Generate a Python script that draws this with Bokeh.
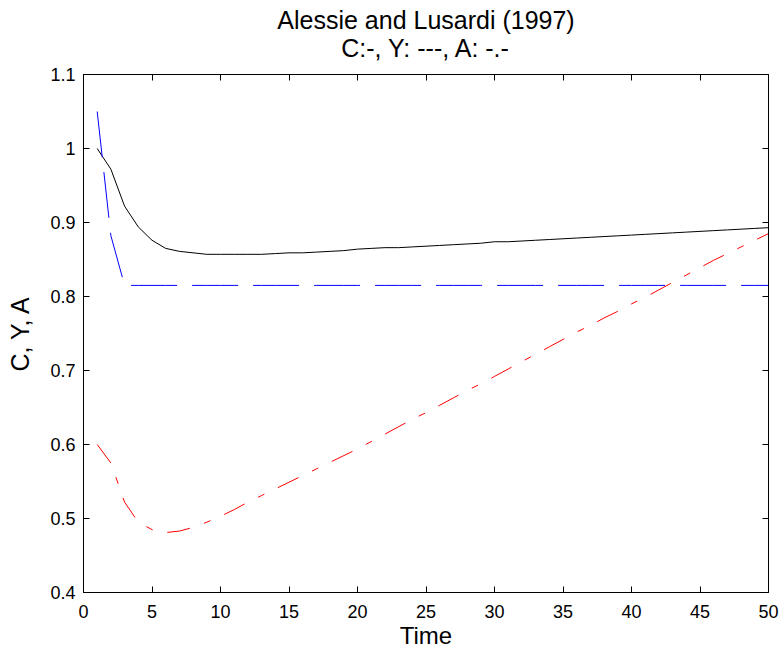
from bokeh.plotting import figure
from bokeh.models import (Range1d, FixedTicker, LinearAxis, Title,
                          CustomJSTickFormatter, CustomLabelingPolicy)
from bokeh.embed import file_html
from bokeh.resources import INLINE

# ---- data ----
time = [1, 2, 3, 4, 5, 6, 7, 8, 9, 10,
        11, 12, 13, 14, 15, 16, 17, 18, 19, 20,
        21, 22, 23, 24, 25, 26, 27, 28, 29, 30,
        31, 32, 33, 34, 35, 36, 37, 38, 39, 40,
        41, 42, 43, 44, 45, 46, 47, 48, 49, 50]

consumption = [1.000, 0.972, 0.922, 0.894, 0.876, 0.865, 0.861, 0.859, 0.857, 0.857,
               0.857, 0.857, 0.857, 0.858, 0.859, 0.859, 0.860, 0.861, 0.862, 0.864,
               0.865, 0.866, 0.866, 0.867, 0.868, 0.869, 0.870, 0.871, 0.872, 0.874,
               0.874, 0.875, 0.876, 0.877, 0.878, 0.879, 0.880, 0.881, 0.882, 0.883,
               0.884, 0.885, 0.886, 0.887, 0.888, 0.889, 0.890, 0.891, 0.892, 0.893]

income = [1.050, 0.882, 0.815, 0.815, 0.815, 0.815, 0.815, 0.815, 0.815, 0.815,
          0.815, 0.815, 0.815, 0.815, 0.815, 0.815, 0.815, 0.815, 0.815, 0.815,
          0.815, 0.815, 0.815, 0.815, 0.815, 0.815, 0.815, 0.815, 0.815, 0.815,
          0.815, 0.815, 0.815, 0.815, 0.815, 0.815, 0.815, 0.815, 0.815, 0.815,
          0.815, 0.815, 0.815, 0.815, 0.815, 0.815, 0.815, 0.815, 0.815, 0.815]

assets = [0.600, 0.575, 0.522, 0.495, 0.485, 0.481, 0.483, 0.488, 0.495, 0.503,
          0.512, 0.522, 0.531, 0.540, 0.549, 0.558, 0.567, 0.576, 0.585, 0.594,
          0.604, 0.614, 0.624, 0.634, 0.643, 0.653, 0.663, 0.673, 0.682, 0.692,
          0.702, 0.712, 0.722, 0.732, 0.742, 0.752, 0.761, 0.771, 0.780, 0.790,
          0.799, 0.809, 0.819, 0.829, 0.839, 0.849, 0.858, 0.867, 0.876, 0.885]

x_ticks = [0, 5, 10, 15, 20, 25, 30, 35, 40, 45, 50]
y_ticks = [0.4, 0.5, 0.6, 0.7, 0.8, 0.9, 1.0, 1.1]

title_main = "Alessie and Lusardi (1997)"
title_sub = "C:-, Y: ---, A: -.-"
x_label = "Time"
y_label = "C, Y, A"

FONT = "Liberation Sans"

p = figure(width=780, height=652, output_backend="svg", toolbar_location=None,
           x_range=Range1d(0, 50), y_range=Range1d(0.4, 1.1),
           min_border_left=83, min_border_right=12, min_border_top=74,
           min_border_bottom=60, background_fill_color="white",
           border_fill_color="white")

p.grid.visible = False
p.outline_line_color = "black"
p.outline_line_width = 1

fmt = CustomJSTickFormatter(code="return String(Math.round(tick*10)/10);")

for ax in (p.xaxis[0], p.yaxis[0]):
    ax.major_tick_in = 6
    ax.major_tick_out = 0
    ax.minor_tick_line_color = None
    ax.axis_line_color = "black"
    ax.major_tick_line_color = "black"
    ax.major_label_text_font = FONT
    ax.major_label_text_font_size = "18px"
    ax.major_label_text_color = "black"
    ax.axis_label_text_font = FONT
    ax.axis_label_text_font_size = "24px"
    ax.axis_label_text_font_style = "normal"
    ax.axis_label_text_color = "black"

p.xaxis[0].ticker = FixedTicker(ticks=x_ticks)
p.xaxis[0].formatter = fmt
p.xaxis[0].axis_label = x_label
p.xaxis[0].major_label_standoff = 12
p.xaxis[0].axis_label_standoff = 1

p.yaxis[0].ticker = FixedTicker(ticks=y_ticks)
p.yaxis[0].formatter = fmt
p.yaxis[0].axis_label = y_label
p.yaxis[0].axis_label_text_font_size = "25px"
p.yaxis[0].major_label_standoff = 8
p.yaxis[0].axis_label_standoff = 13

# mirrored axes (ticks only, no labels)
no_labels = CustomLabelingPolicy(code="return new Set();")
right = LinearAxis(ticker=FixedTicker(ticks=y_ticks))
top = LinearAxis(ticker=FixedTicker(ticks=x_ticks))
for ax in (right, top):
    ax.major_tick_in = 6
    ax.major_tick_out = 0
    ax.minor_tick_line_color = None
    ax.major_label_policy = no_labels
    ax.major_label_text_font_size = "0px"
    ax.major_label_standoff = 0
    ax.axis_line_color = "black"
    ax.major_tick_line_color = "black"
p.add_layout(right, "right")
p.add_layout(top, "above")

t_sub = Title(text=title_sub, align="center", text_font=FONT,
              text_font_size="25px", text_font_style="normal",
              text_color="black", standoff=25)
t_main = Title(text=title_main, align="center", text_font=FONT,
               text_font_size="25px", text_font_style="normal",
               text_color="black", standoff=-28)
p.add_layout(t_sub, "above")
p.add_layout(t_main, "above")

p.line(time, consumption, line_color="black", line_width=1)
p.line(time, income, line_color="#0000ff", line_width=1, line_dash="46 15")
p.line(time, assets, line_color="#ff0000", line_width=1, line_dash="23 15 7 15")

open("out.html", "w").write(file_html(p, INLINE))
